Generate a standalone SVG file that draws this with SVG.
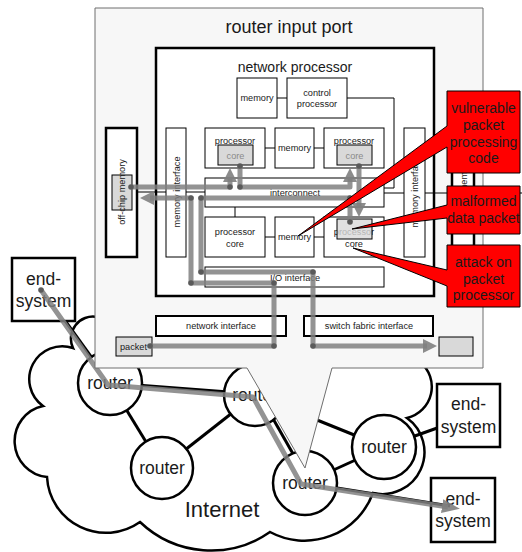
<svg xmlns="http://www.w3.org/2000/svg" width="522" height="552" viewBox="0 0 522 552">
<defs>
<style>
text{font-family:"Liberation Sans",Arial,sans-serif;fill:#1a1a1a}
.box{fill:#fff;stroke:#000;stroke-width:1}
.thick{fill:#fff;stroke:#000;stroke-width:2.5}
.gbox{fill:#d9d9d9;stroke:#000;stroke-width:1}
.gboxt{fill:#d9d9d9;fill-opacity:0.8;stroke:#000;stroke-width:1}
.t9{font-size:9.2px;text-anchor:middle}
.tg{font-size:9.2px;text-anchor:middle;fill:#8a8a8a}
.thin{fill:none;stroke:#000;stroke-width:1}
.band{fill:none;stroke:#808080;stroke-width:5;stroke-opacity:0.85;stroke-linejoin:round}
.dot{fill:#5a5a5a}
.link{stroke:#000;stroke-width:3;fill:none}
.node{fill:#fff;stroke:#000;stroke-width:2.5}
.big{font-size:17.5px;text-anchor:middle}
.callout{fill:#ff0000;stroke:#000;stroke-width:1}
.ct{font-size:14px;text-anchor:middle}
</style>
<marker id="ah" markerUnits="userSpaceOnUse" markerWidth="16" markerHeight="16" refX="4" refY="7" orient="auto"><path d="M0,0 L14,7 L0,14 Z" fill="#808080" fill-opacity="0.9"/></marker>
<marker id="ah2" markerUnits="userSpaceOnUse" markerWidth="20" markerHeight="16" refX="6" refY="7" orient="auto"><path d="M0,0 L18,7 L0,14 Z" fill="#808080" fill-opacity="0.9"/></marker>
</defs>
<rect width="522" height="552" fill="#fff"/>

<g id="internet-cloud">
<path d="M73,348 A22,22 0 0 1 97,317 L97,300 L423,300 L420,362 A32,32 0 0 1 407,418 A42,42 0 0 1 373,493 A73,73 0 0 1 270,532 A103,103 0 0 1 140,522 A59,59 0 0 1 47,477 A36,36 0 0 1 43,406 A33,33 0 0 1 73,348 Z" fill="#fff" stroke="#000" stroke-width="2.5"/>
<text x="222" y="517" font-size="22" text-anchor="middle">Internet</text>
</g>

<g id="connectors">
<line class="link" x1="43" y1="290" x2="110" y2="383"/>
<line class="link" x1="110" y1="383" x2="255" y2="394"/>
<line class="link" x1="110" y1="383" x2="162" y2="468"/>
<line class="link" x1="162" y1="468" x2="255" y2="395"/>
<line class="link" x1="259" y1="394" x2="309" y2="482"/>
<line class="link" x1="255" y1="395" x2="384" y2="447"/>
<line class="link" x1="305" y1="483" x2="384" y2="447"/>
<line class="link" x1="384" y1="447" x2="468" y2="417"/>
</g>

<g id="router1"><circle class="node" cx="110" cy="383" r="32"/><text class="big" x="110" y="389">router</text></g>
<g id="router2"><circle class="node" cx="255" cy="395" r="31"/><text class="big" x="255" y="401">router</text></g>
<g id="router3"><circle class="node" cx="162" cy="468" r="31"/><text class="big" x="162" y="474">router</text></g>
<g id="router4"><circle class="node" cx="305" cy="483" r="32"/><text class="big" x="305" y="489">router</text></g>
<g id="router5"><circle class="node" cx="384" cy="447" r="32"/><text class="big" x="384" y="453">router</text></g>
<g id="end-system1"><rect class="node" x="12" y="258" width="63" height="63"/><text class="big" x="43.5" y="285">end-</text><text class="big" x="43.5" y="307">system</text></g>
<g id="end-system2"><rect class="node" x="437" y="384" width="63" height="63"/><text class="big" x="468.5" y="410">end-</text><text class="big" x="468.5" y="433">system</text></g>
<g id="end-system3"><rect class="node" x="431" y="478" width="64" height="64"/><text class="big" x="463" y="505">end-</text><text class="big" x="463" y="527">system</text></g>

<g id="packet-route">
<line class="link" x1="337" y1="488" x2="450" y2="506"/>
<path class="band" d="M41,290 L108,385 L253,397 L301,484 L448,507" marker-end="url(#ah2)"/>
<circle class="dot" cx="41" cy="290" r="2.8"/>
</g>

<g id="router-input-port">
<path d="M95,8 H483 V368 H332 L305,468 L247,368 H95 Z" fill="#f7f7f7" stroke="#6e6e6e" stroke-width="1"/>
<text x="289" y="33" font-size="18" text-anchor="middle">router input port</text>
</g>

<g id="network-processor">
<rect x="156" y="48" width="278" height="248" fill="#fff" stroke="#000" stroke-width="2.5"/>
<text x="295" y="72" font-size="14" text-anchor="middle">network processor</text>
</g>

<g id="internal-lines">
<line class="thin" x1="277" y1="98" x2="287" y2="98"/>
<polyline class="thin" points="347,98 394,98 394,188 384,188"/>
<line class="thin" x1="265" y1="148" x2="275" y2="148"/>
<line class="thin" x1="314" y1="148" x2="324" y2="148"/>
<line class="thin" x1="265" y1="237" x2="275" y2="237"/>
<line class="thin" x1="314" y1="237" x2="324" y2="237"/>
<line class="thin" x1="235" y1="207" x2="235" y2="217"/>
<line class="thin" x1="137" y1="192" x2="166" y2="192"/>
<line class="thin" x1="186" y1="192" x2="205" y2="192"/>
<line class="thin" x1="384" y1="193" x2="404" y2="193"/>
<line class="thin" x1="425" y1="193" x2="452" y2="193"/>
<line class="thin" x1="474" y1="193" x2="522" y2="193"/>
</g>

<g id="memory-top"><rect class="box" x="237" y="78" width="40" height="40"/><text class="t9" x="257" y="101">memory</text></g>
<g id="control-processor"><rect class="box" x="287" y="78" width="60" height="40"/><text class="t9" x="317" y="96">control</text><text class="t9" x="317" y="107">processor</text></g>

<g id="core-top-left"><rect class="box" x="205" y="128" width="60" height="40"/><text class="t9" x="235" y="144">processor</text><rect class="gbox" x="218" y="145" width="35" height="20"/><text class="tg" x="235.5" y="158.5">core</text></g>
<g id="memory-mid-top"><rect class="box" x="275" y="128" width="39" height="40"/><text class="t9" x="294.5" y="151">memory</text></g>
<g id="core-top-right"><rect class="box" x="324" y="128" width="60" height="40"/><text class="t9" x="354" y="144">processor</text><rect class="gbox" x="337" y="145" width="35" height="20"/><text class="tg" x="354.5" y="158.5">core</text></g>

<g id="interconnect"><rect class="box" x="205" y="178" width="179" height="29"/><text class="t9" x="295" y="196">interconnect</text></g>

<g id="core-bottom-left"><rect class="box" x="205" y="217" width="60" height="40"/><text class="t9" x="235" y="235">processor</text><text class="t9" x="235" y="247">core</text></g>
<g id="memory-mid-bottom"><rect class="box" x="275" y="217" width="39" height="40"/><text class="t9" x="294.5" y="240">memory</text></g>
<g id="core-bottom-right"><rect class="box" x="324" y="217" width="60" height="40"/><text class="t9" x="354" y="235">processor</text><text class="t9" x="354" y="247">core</text><rect class="gboxt" x="337" y="219" width="35" height="20"/></g>

<g id="io-interface"><rect class="box" x="205" y="267" width="179" height="20"/><text class="t9" x="295" y="281">I/O interface</text></g>

<g id="memory-interface-left"><rect class="box" x="166" y="128" width="20" height="129"/><text class="t9" transform="translate(179.5,192) rotate(-90)">memory interface</text></g>
<g id="memory-interface-right"><rect class="box" x="404" y="128" width="21" height="129"/><text class="t9" transform="translate(418,192) rotate(-90)">memory interface</text></g>

<g id="off-chip-memory-left"><rect class="thick" x="106" y="128" width="31" height="129"/><rect class="gbox" x="112" y="175" width="20" height="35"/><text class="t9" transform="translate(125,192) rotate(-90)">off-chip memory</text></g>
<g id="off-chip-memory-right"><rect class="thick" x="452" y="128" width="22" height="129"/><text class="t9" transform="translate(467,192) rotate(-90)">off-chip memory</text></g>

<g id="network-interface"><rect x="156" y="316" width="130" height="20" fill="#fff" stroke="#000" stroke-width="2"/><text class="t9" x="221" y="329">network interface</text></g>
<g id="switch-fabric-interface"><rect x="304" y="316" width="129" height="20" fill="#fff" stroke="#000" stroke-width="2"/><text class="t9" x="369" y="329">switch fabric interface</text></g>
<g id="packet"><rect class="gbox" x="116" y="337" width="36" height="19"/><text class="t9" x="133.5" y="349.5">packet</text></g>
<g id="packet-out"><rect class="gbox" x="439" y="337" width="34" height="19"/></g>

<g id="data-flow">
<path class="band" d="M150,346 H274 V283 H191 V198 H150" marker-end="url(#ah)"/>
<path class="band" d="M131,187 H230 V178" marker-end="url(#ah)"/>
<path class="band" d="M240,166 V187 H350 V178" marker-end="url(#ah)"/>
<path class="band" d="M359,166 V207" marker-end="url(#ah)"/>
<path class="band" d="M350,222 V198 H201 V272 H313 V346 H427" marker-end="url(#ah)"/>
<g class="dot">
<circle cx="150" cy="346" r="2.8"/><circle cx="274" cy="346" r="2.8"/><circle cx="274" cy="283" r="2.8"/><circle cx="191" cy="283" r="2.8"/><circle cx="191" cy="198" r="2.8"/>
<circle cx="131" cy="187" r="2.8"/><circle cx="230" cy="187" r="2.8"/><circle cx="240" cy="166" r="2.8"/><circle cx="240" cy="187" r="2.8"/>
<circle cx="359" cy="166" r="2.8"/><circle cx="350" cy="222" r="2.8"/><circle cx="350" cy="198" r="2.8"/><circle cx="201" cy="198" r="2.8"/><circle cx="201" cy="272" r="2.8"/><circle cx="313" cy="272" r="2.8"/><circle cx="313" cy="346" r="2.8"/>
</g>
</g>

<g id="callout-vulnerable">
<path class="callout" d="M447,91 H520 V173 H447 V147 L298,236 L447,126 Z"/>
<text class="ct" x="483.5" y="113">vulnerable</text><text class="ct" x="483.5" y="130">packet</text><text class="ct" x="483.5" y="147">processing</text><text class="ct" x="483.5" y="163">code</text>
</g>
<g id="callout-malformed">
<path class="callout" d="M447,186 H520 V234 H447 V218 L352,229 L447,205 Z"/>
<text class="ct" x="483.5" y="206">malformed</text><text class="ct" x="483.5" y="223">data packet</text>
</g>
<g id="callout-attack">
<path class="callout" d="M447,245 H520 V307 H447 V286 L353,248 L447,270 Z"/>
<text class="ct" x="483.5" y="267">attack on</text><text class="ct" x="483.5" y="284">packet</text><text class="ct" x="483.5" y="300">processor</text>
</g>
</svg>
